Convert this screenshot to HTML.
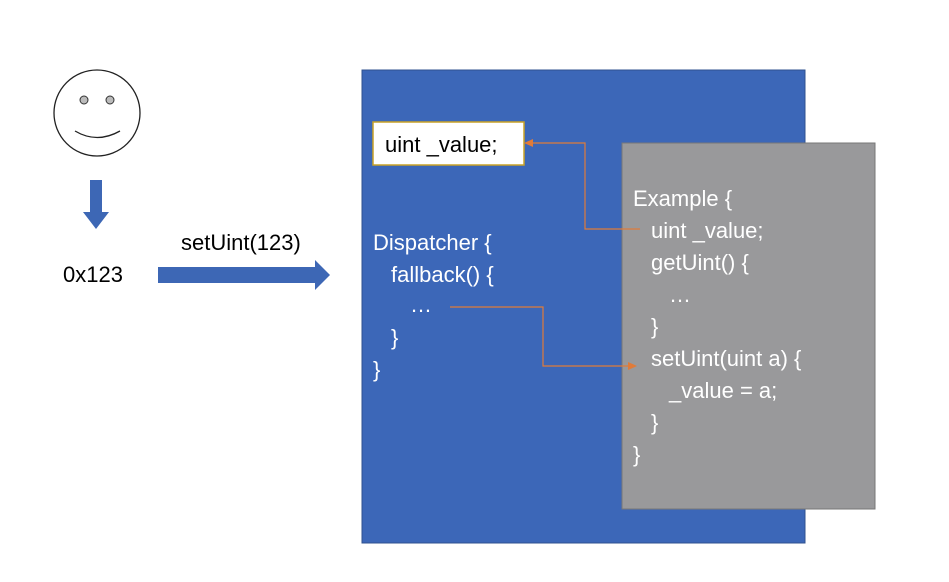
<!DOCTYPE html><html><head><style>body{margin:0;background:#fff}svg{display:block}text{font-family:"Liberation Sans",sans-serif;font-size:22px}</style></head><body>
<svg width="949" height="582" viewBox="0 0 949 582">
<circle cx="97" cy="113" r="43" fill="#fff" stroke="#222" stroke-width="1.3"/>
<circle cx="84" cy="100" r="4" fill="#bbb" stroke="#333"/><circle cx="110" cy="100" r="4" fill="#bbb" stroke="#333"/>
<path d="M75 131 Q97 144 120 131" fill="none" stroke="#222" stroke-width="1.3"/>
<polygon points="90,180 102,180 102,212 109,212 96,229 83,212 90,212" fill="#3d67b5"/>
<polygon points="158,267 315,267 315,260 330,275 315,290 315,283 158,283" fill="#3d67b5"/>
<text x="63" y="282" fill="#000">0x123</text>
<text x="181" y="250" fill="#000">setUint(123)</text>
<rect x="362" y="70" width="443" height="473" fill="#3c67b8" stroke="#2f528f"/>
<rect x="622" y="143" width="253" height="366" fill="#99999b" stroke="#777"/>
<rect x="373" y="122" width="151" height="43" fill="#fff" stroke="#c9a227" stroke-width="1.5"/>
<text x="385" y="152" fill="#000">uint _value;</text>
<g fill="#fff">
<text x="373" y="250">Dispatcher {</text>
<text x="391" y="282">fallback() {</text>
<text x="410" y="312">…</text>
<text x="391" y="345">}</text>
<text x="373" y="377">}</text>
<text x="633" y="206">Example {</text>
<text x="651" y="238">uint _value;</text>
<text x="651" y="270">getUint() {</text>
<text x="669" y="302">…</text>
<text x="651" y="334">}</text>
<text x="651" y="366">setUint(uint a) {</text>
<text x="669" y="398">_value = a;</text>
<text x="651" y="430">}</text>
<text x="633" y="462">}</text>
</g>
<g stroke="#e07b39" stroke-width="1.2" fill="none">
<polyline points="640,229 585,229 585,143 532,143"/>
<polyline points="450,307 543,307 543,366 630,366"/>
</g>
<polygon points="524,143 533,139 533,147" fill="#e07b39"/>
<polygon points="637,366 628,362 628,370" fill="#e07b39"/>
</svg></body></html>
